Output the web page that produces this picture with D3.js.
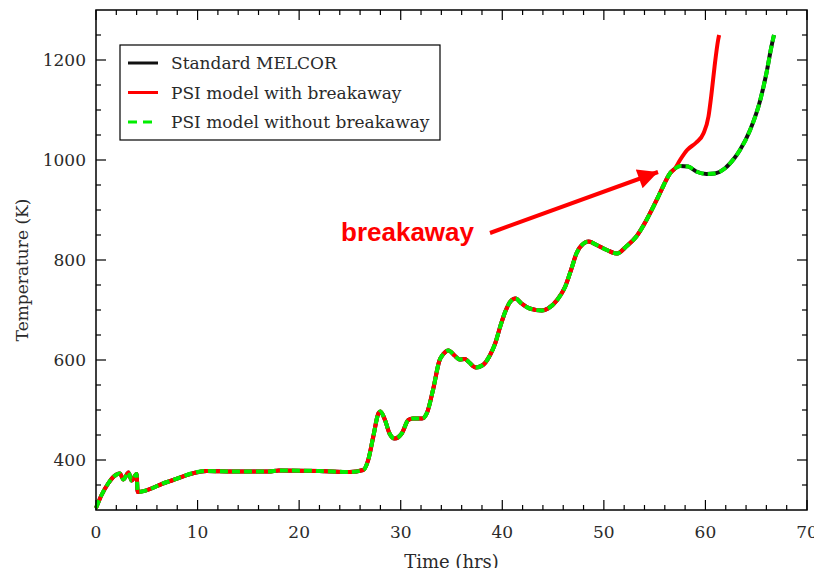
<!DOCTYPE html>
<html>
<head>
<meta charset="utf-8">
<script src="https://cdn.jsdelivr.net/npm/d3@7"></script>
<style>
  html, body { margin: 0; padding: 0; background: #fff; }
  svg { display: block; }
</style>
</head>
<body>
<svg id="chart" width="814" height="568"></svg>
<script>
// Cladding temperature history (hours, K)
const timeBase = [0, 0.55, 1.2, 1.7, 2.35, 2.7, 3.2, 3.5, 4.0, 4.1, 7.0, 10.9, 13.5, 17.0, 18.0, 22.0, 25.0, 26.3,
  26.8, 27.3, 27.8, 28.0, 28.45, 28.9, 29.4, 30.1, 30.75, 31.2, 32.1, 32.6, 33.2, 33.8, 34.2, 34.7, 35.3, 35.8,
  36.3, 36.7, 37.4, 38.1, 38.8, 39.3, 39.8, 40.3, 40.8, 41.3, 41.9, 42.7, 43.9, 44.5, 45.4, 46.2, 46.8, 47.3,
  48.0, 48.5, 49.3, 50.3, 51.3, 52.2, 53.2, 54.2, 55.2, 55.9, 56.5, 57.0];
const tempBase = [304, 330, 353, 366, 373, 361, 375, 359, 372, 336, 356, 378, 377, 377, 379, 378, 376, 380,
  400, 447, 493, 497, 480, 453, 443, 453, 480, 483, 483, 495, 542, 598, 612, 619, 609, 601,
  602, 596, 585, 590, 610, 633, 667, 697, 717, 723, 713, 703, 699, 703, 720, 747, 782, 813,
  833, 837, 830, 820, 813, 827, 847, 880, 920, 950, 973, 983];

// Continuation without breakaway oxidation
const timeNoBreak = [57.5, 58.3, 59.1, 60.1, 60.9, 61.9, 62.9, 63.4, 64.4, 65.4, 66.0, 66.5, 66.75];
const tempNoBreak = [988, 987, 977, 972, 973, 983, 1005, 1020, 1060, 1120, 1173, 1227, 1250];

// Continuation with breakaway oxidation
const timeBreak = [57.5, 58.2, 59.1, 59.8, 60.3, 60.6, 60.9, 61.25, 61.35];
const tempBreak = [1000, 1020, 1035, 1053, 1087, 1133, 1187, 1240, 1250];

const seriesNames = ["Standard MELCOR", "PSI model with breakaway", "PSI model without breakaway"];
const seriesColors = ["#111111", "#ff0000", "#00ee00"];

const xTicks = [0, 10, 20, 30, 40, 50, 60, 70];
const yTicks = [400, 600, 800, 1000, 1200];
const xDomain = [0, 70];
const yDomain = [300, 1300];

const annotationText = "breakaway";

function zipSeries(ts, vs) { return ts.map((t, i) => ({ t: t, v: vs[i] })); }
const baseData = zipSeries(timeBase, tempBase);
const standardData = baseData.concat(zipSeries(timeNoBreak, tempNoBreak));
const withoutData = baseData.concat(zipSeries(timeNoBreak, tempNoBreak));
const withData = baseData.concat(zipSeries(timeBreak, tempBreak));

const svg = d3.select("#chart");
const plot = { left: 96, right: 807, top: 10, bottom: 510 };

const x = d3.scaleLinear().domain(xDomain).range([plot.left, plot.right]);
const y = d3.scaleLinear().domain(yDomain).range([plot.bottom, plot.top]);

const serif = "'DejaVu Serif', serif";
const textColor = "#2a2a2a";

// Tick marks pointing inward on all four sides
const xMinor = d3.range(0, 70.001, 2).filter(v => v % 10 !== 0);
const yMinor = d3.range(300, 1300.001, 50).filter(v => v % 200 !== 0 && v > 300 && v < 1300);

const tickG = svg.append("g").attr("stroke", "#000").attr("stroke-width", 1.2);
function hTicks(vals, len) {
  vals.forEach(v => {
    tickG.append("line").attr("x1", x(v)).attr("x2", x(v)).attr("y1", plot.bottom).attr("y2", plot.bottom - len);
    tickG.append("line").attr("x1", x(v)).attr("x2", x(v)).attr("y1", plot.top).attr("y2", plot.top + len);
  });
}
function vTicks(vals, len) {
  vals.forEach(v => {
    tickG.append("line").attr("y1", y(v)).attr("y2", y(v)).attr("x1", plot.left).attr("x2", plot.left + len);
    tickG.append("line").attr("y1", y(v)).attr("y2", y(v)).attr("x1", plot.right).attr("x2", plot.right - len);
  });
}
hTicks(xTicks, 10); hTicks(xMinor, 5);
vTicks(yTicks, 10); vTicks(yMinor, 5);

// Tick labels
svg.append("g").selectAll("text").data(xTicks).join("text")
  .attr("x", d => x(d)).attr("y", plot.bottom + 28)
  .attr("text-anchor", "middle")
  .attr("font-family", serif).attr("font-size", 17).attr("fill", textColor)
  .text(d => d);
svg.append("g").selectAll("text").data(yTicks).join("text")
  .attr("x", plot.left - 10).attr("y", d => y(d) + 6)
  .attr("text-anchor", "end")
  .attr("font-family", serif).attr("font-size", 17).attr("fill", textColor)
  .text(d => d);

// Axis titles
svg.append("text").attr("x", (plot.left + plot.right) / 2).attr("y", plot.bottom + 58)
  .attr("text-anchor", "middle").attr("font-family", serif).attr("font-size", 18).attr("fill", textColor)
  .text("Time (hrs)");
svg.append("text")
  .attr("transform", `translate(28,${(plot.top + plot.bottom) / 2 + 10}) rotate(-90)`)
  .attr("text-anchor", "middle").attr("font-family", serif).attr("font-size", 17).attr("fill", textColor)
  .text("Temperature (K)");

// Curves
const line = d3.line().x(d => x(d.t)).y(d => y(d.v)).curve(d3.curveMonotoneX);
const curves = svg.append("g").attr("fill", "none").attr("stroke-linejoin", "round");
curves.append("path").datum(standardData).attr("d", line)
  .attr("stroke", seriesColors[0]).attr("stroke-width", 4);
curves.append("path").datum(withData).attr("d", line)
  .attr("stroke", seriesColors[1]).attr("stroke-width", 4);
curves.append("path").datum(withoutData).attr("d", line)
  .attr("stroke", seriesColors[2]).attr("stroke-width", 4).attr("stroke-dasharray", "8,4");

// Frame
svg.append("rect").attr("x", plot.left).attr("y", plot.top)
  .attr("width", plot.right - plot.left).attr("height", plot.bottom - plot.top)
  .attr("fill", "none").attr("stroke", "#000").attr("stroke-width", 1.5);

// Legend
const legend = svg.append("g");
legend.append("rect").attr("x", 120).attr("y", 45).attr("width", 320).attr("height", 95)
  .attr("fill", "#fff").attr("stroke", "#000").attr("stroke-width", 1.2);
seriesNames.forEach((name, i) => {
  const ly = 63 + i * 29.5;
  const l = legend.append("line").attr("x1", 128).attr("x2", 158).attr("y1", ly).attr("y2", ly)
    .attr("stroke", seriesColors[i]).attr("stroke-width", 3);
  if (i === 2) l.attr("stroke-dasharray", "9,6");
  legend.append("text").attr("x", 171).attr("y", ly + 6)
    .attr("font-family", serif).attr("font-size", 17).attr("fill", textColor)
    .text(name);
});

// Breakaway annotation with arrow
const defs = svg.append("defs");
defs.append("marker").attr("id", "arrowHead").attr("viewBox", "0 0 10 10")
  .attr("refX", 10).attr("refY", 5).attr("markerWidth", 5.5).attr("markerHeight", 5)
  .attr("markerUnits", "strokeWidth").attr("orient", "auto")
  .append("path").attr("d", "M0,0 L10,5 L0,10 Z").attr("fill", "#ff0000");
svg.append("line").attr("x1", 490).attr("y1", 233).attr("x2", 658).attr("y2", 172)
  .attr("stroke", "#ff0000").attr("stroke-width", 4).attr("marker-end", "url(#arrowHead)");
svg.append("text").attr("x", 341).attr("y", 241)
  .attr("font-family", "'Liberation Sans', Arial, sans-serif").attr("font-weight", "bold")
  .attr("font-size", 26).attr("fill", "#ff0000")
  .text(annotationText);
</script>
</body>
</html>
